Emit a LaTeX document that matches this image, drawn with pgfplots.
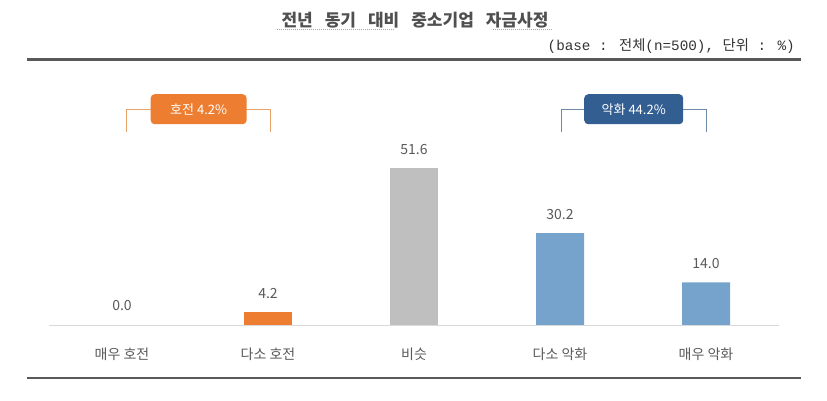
\documentclass[border=0pt]{standalone}
\usepackage{fontspec}
\setmainfont{Noto Sans CJK KR}
\newfontfamily\monofont{Liberation Mono}
\usepackage{pgfplots}
\pgfplotsset{compat=1.18}

\definecolor{barOrange}{HTML}{ED7D31}
\definecolor{barGray}{HTML}{BFBFBF}
\definecolor{barBlue}{HTML}{75A3CB}
\definecolor{boxBlue}{HTML}{335E92}
\definecolor{lineOrange}{HTML}{E6A46C}
\definecolor{lineBlue}{HTML}{6E88A8}
\definecolor{txt}{HTML}{595959}
\definecolor{titleC}{HTML}{505050}
\definecolor{ruleC}{HTML}{595959}
\definecolor{baseC}{HTML}{D9D9D9}

\begin{document}
\begin{tikzpicture}[x=1pt,y=1pt]
  \path[use as bounding box] (0,0) rectangle (827,401);

  % title, note and rules
  \node[text=titleC, inner sep=0pt, font=\fontsize{17pt}{19pt}\selectfont\bfseries] at (415,380.5)
    {전년\hspace{12pt}동기\hspace{12pt}대비\hspace{12pt}중소기업\hspace{12pt}자금사정};
  \draw[barOrange!85, line width=1pt, dash pattern=on 1pt off 1pt] (277,371) -- (395,371);
  \draw[barOrange!85, line width=1pt, dash pattern=on 1pt off 1pt] (493,371) -- (553,371);
  \node[anchor=east, inner sep=0pt, text=black!80, font=\fontsize{14.3pt}{16pt}\selectfont] at (795,355)
    {{\monofont (base : }전체{\monofont (n=500), }단위{\monofont{} : \%)}};
  \draw[ruleC, line width=2.5pt] (27,341.5) -- (801,341.5);
  \draw[ruleC, line width=2.5pt] (27,23) -- (801,23);

  \begin{axis}[
      at={(49pt,76pt)}, anchor=south west,
      scale only axis,
      width=730pt, height=234pt,
      xmin=-0.5, xmax=4.5,
      ymin=0, ymax=77,
      axis x line=bottom,
      axis y line=none,
      x axis line style={-, draw=baseC, line width=0.8pt},
      major tick length=0pt,
      xtick={0,1,2,3,4},
      xticklabels={매우 호전, 다소 호전, 비슷, 다소 악화, 매우 악화},
      xticklabel style={anchor=center, yshift=-29pt, text=txt,
        font=\fontsize{14pt}{16pt}\selectfont},
      ybar, bar width=48pt, bar shift=0pt,
      nodes near coords,
      nodes near coords style={anchor=center, yshift=19pt, text=txt,
        font=\fontsize{14pt}{16pt}\selectfont,
        /pgf/number format/.cd, fixed, fixed zerofill, precision=1,
        assume math mode=true},
      clip=false,
    ]
    \addplot[draw=none, fill=none] coordinates {(0,0.0)};
    \addplot[draw=none, fill=barOrange] coordinates {(1,4.2)};
    \addplot[draw=none, fill=barGray] coordinates {(2,51.6)};
    \addplot[draw=none, fill=barBlue] coordinates {(3,30.2) (4,14.0)};

    % group brackets
    \draw[lineOrange, line width=1pt] (axis cs:0.03,63.5) -- (axis cs:0.03,71)
      -- (axis cs:1.02,71) -- (axis cs:1.02,63.5);
    \node[fill=barOrange, rounded corners=4pt, minimum width=96pt,
      minimum height=30pt, text=white, inner sep=0pt,
      font=\fontsize{13pt}{15pt}\selectfont] at (axis cs:0.525,71) {호전 4.2\%};
    \draw[lineBlue, line width=1pt] (axis cs:3.01,63.5) -- (axis cs:3.01,71)
      -- (axis cs:4,71) -- (axis cs:4,63.5);
    \node[fill=boxBlue, rounded corners=4pt, minimum width=99pt,
      minimum height=30pt, text=white, inner sep=0pt,
      font=\fontsize{13pt}{15pt}\selectfont] at (axis cs:3.505,71) {악화 44.2\%};
  \end{axis}
\end{tikzpicture}
\end{document}
